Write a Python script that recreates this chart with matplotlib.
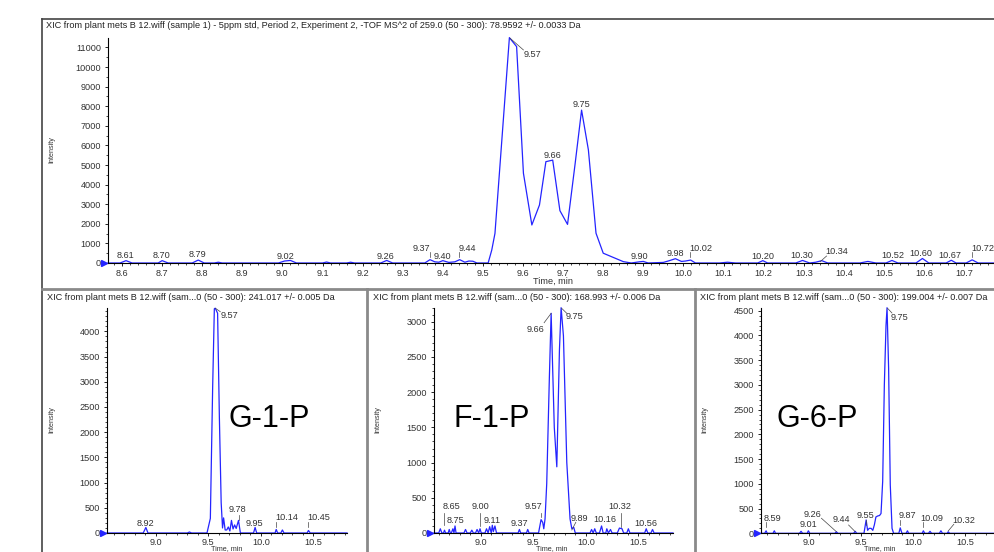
import matplotlib
matplotlib.use("Agg")
import matplotlib.pyplot as plt
from matplotlib.lines import Line2D
from matplotlib.ticker import MultipleLocator, FormatStrFormatter
from matplotlib.transforms import ScaledTranslation

plt.rcParams['font.family'] = ['Liberation Sans', 'DejaVu Sans']

W, H = 995, 552

# ---- data ----
top_title = ("XIC from plant mets B 12.wiff (sample 1) - 5ppm std, Period 2, Experiment 2, "
             "-TOF MS^2 of 259.0 (50 - 300): 78.9592 +/- 0.0033 Da")
top_time = [8.565, 8.595, 8.610, 8.625, 8.690, 8.700, 8.715, 8.775, 8.790, 8.805,
            8.830, 8.840, 8.850, 8.990, 9.005, 9.020, 9.035, 9.100, 9.110, 9.120,
            9.160, 9.170, 9.180, 9.245, 9.260, 9.275, 9.355, 9.368, 9.380, 9.390,
            9.400, 9.415, 9.430, 9.442, 9.455, 9.465, 9.475, 9.485, 9.513, 9.522,
            9.530, 9.566, 9.584, 9.601, 9.622, 9.641, 9.657, 9.674, 9.692, 9.711,
            9.730, 9.746, 9.763, 9.782, 9.800, 9.850, 9.870, 9.890, 9.900, 9.912,
            9.950, 9.965, 9.980, 9.995, 10.005, 10.018, 10.030, 10.090, 10.110, 10.130,
            10.185, 10.198, 10.210, 10.280, 10.297, 10.315, 10.330, 10.345, 10.360, 10.440,
            10.460, 10.480, 10.505, 10.520, 10.535, 10.580, 10.596, 10.612, 10.655, 10.668,
            10.680, 10.705, 10.720, 10.735, 10.780]
top_int = [0, 0, 120, 0, 0, 120, 0, 0, 150, 0,
           0, 40, 0, 0, 100, 130, 0, 0, 50, 0,
           0, 40, 0, 0, 130, 0, 0, 170, 60, 40,
           120, 30, 60, 170, 40, 100, 90, 0, 0, 660,
           1510, 11500, 11040, 4580, 1940, 2960, 5170, 5250, 2670, 1970,
           5080, 7800, 5770, 1520, 500, 70, 0, 60, 80, 0,
           30, 120, 220, 80, 100, 150, 0, 0, 40, 0,
           0, 120, 0, 0, 130, 0, 40, 120, 0, 0,
           80, 0, 0, 130, 0, 0, 230, 0, 0, 140,
           0, 0, 160, 0, 0]
top_labels = ["8.61", "8.70", "8.79", "9.02", "9.26", "9.37", "9.40", "9.44", "9.57",
              "9.66", "9.75", "9.90", "9.98", "10.02", "10.20", "10.30", "10.34",
              "10.52", "10.60", "10.67", "10.72"]

g1p_title = "XIC from plant mets B 12.wiff (sam...0 (50 - 300): 241.017 +/- 0.005 Da"
g1p_time = [8.535, 8.880, 8.905, 8.925, 9.300, 9.320, 9.340, 9.487, 9.519, 9.541,
            9.557, 9.566, 9.588, 9.605, 9.622, 9.635, 9.645, 9.660, 9.675, 9.690,
            9.705, 9.720, 9.735, 9.750, 9.765, 9.787, 9.805, 9.930, 9.945, 9.960,
            10.135, 10.146, 10.160, 10.190, 10.205, 10.220, 10.440, 10.453, 10.470, 10.820]
g1p_int = [0, 0, 110, 0, 0, 20, 0, 0, 290, 2900,
           4450, 4460, 4360, 2280, 600, 100, 300, 60, 60, 120,
           40, 250, 80, 160, 90, 250, 0, 0, 110, 0,
           0, 70, 0, 0, 60, 0, 0, 50, 0, 0]
g1p_labels = ["9.57", "9.78", "8.92", "9.95", "10.14", "10.45"]

f1p_title = "XIC from plant mets B 12.wiff (sam...0 (50 - 300): 168.993 +/- 0.006 Da"
f1p_time = [8.555, 8.600, 8.615, 8.630, 8.645, 8.655, 8.665, 8.690, 8.700, 8.710,
            8.720, 8.735, 8.745, 8.755, 8.765, 8.840, 8.855, 8.870, 8.900, 8.915,
            8.930, 8.950, 8.965, 8.980, 8.993, 9.005, 9.040, 9.055, 9.070, 9.085,
            9.100, 9.110, 9.120, 9.135, 9.150, 9.355, 9.368, 9.380, 9.435, 9.447,
            9.460, 9.550, 9.574, 9.590, 9.600, 9.612, 9.628, 9.653, 9.670, 9.700,
            9.724, 9.749, 9.765, 9.787, 9.819, 9.850, 9.867, 9.885, 9.900, 9.950,
            10.040, 10.055, 10.070, 10.085, 10.100, 10.130, 10.150, 10.165, 10.190, 10.200,
            10.215, 10.235, 10.250, 10.300, 10.320, 10.345, 10.360, 10.390, 10.405, 10.420,
            10.560, 10.575, 10.590, 10.620, 10.635, 10.650, 10.830]
f1p_int = [0, 0, 60, 0, 0, 40, 0, 0, 50, 0,
           0, 60, 0, 100, 0, 0, 50, 0, 0, 40,
           0, 0, 50, 0, 60, 0, 0, 60, 0, 90,
           0, 110, 20, 100, 0, 0, 50, 0, 0, 50,
           0, 0, 190, 150, 60, 200, 700, 2200, 3120, 1500,
           940, 2600, 3200, 2800, 1000, 200, 60, 80, 0, 0,
           0, 50, 0, 60, 0, 0, 100, 0, 0, 60,
           0, 50, 0, 0, 70, 60, 0, 0, 60, 0,
           0, 60, 0, 0, 50, 0, 0]
f1p_labels = ["9.66", "9.75", "8.65", "8.75", "9.00", "9.11", "9.37", "9.57",
              "9.89", "10.16", "10.32", "10.56"]

g6p_title = "XIC from plant mets B 12.wiff (sam...0 (50 - 300): 199.004 +/- 0.007 Da"
g6p_time = [8.540, 8.575, 8.589, 8.600, 8.655, 8.668, 8.680, 8.910, 8.925, 8.940,
            8.985, 8.995, 9.010, 9.250, 9.265, 9.280, 9.430, 9.446, 9.460, 9.530,
            9.551, 9.565, 9.580, 9.599, 9.615, 9.630, 9.645, 9.662, 9.680, 9.694,
            9.710, 9.726, 9.742, 9.752, 9.767, 9.783, 9.800, 9.815, 9.865, 9.879,
            9.895, 9.935, 9.948, 9.960, 10.090, 10.101, 10.115, 10.150, 10.165, 10.180,
            10.255, 10.270, 10.285, 10.330, 10.340, 10.355, 10.790]
g6p_int = [0, 0, 50, 0, 0, 50, 0, 0, 40, 0,
           0, 50, 0, 0, 30, 0, 0, 40, 0, 0,
           270, 60, 100, 100, 60, 170, 330, 350, 360, 400,
           1050, 3000, 4200, 4560, 3340, 980, 100, 0, 0, 110,
           0, 0, 50, 0, 0, 50, 0, 0, 40, 0,
           0, 50, 0, 0, 30, 0, 0]
g6p_labels = ["9.75", "8.59", "9.26", "9.01", "9.44", "9.55", "9.87", "10.09", "10.32"]

compound_names = ["G-1-P", "F-1-P", "G-6-P"]

# ---- layout (label centres and leader lines, data coordinates) ----
top_pos = [(8.6075, 393), (8.698, 393), (8.789, 444), (9.0065, 342), (9.258, 357),
           (9.347, 760), (9.399, 357), (9.460, 760), (9.624, 10650), (9.674, 5510),
           (9.745, 8110), (9.890, 321), (9.979, 495), (10.043, 760), (10.197, 357),
           (10.295, 372), (10.382, 612), (10.521, 372), (10.592, 495), (10.665, 372),
           (10.746, 724)]
top_lead = [((9.368, 330), (9.368, 560)), ((9.441, 330), (9.441, 560)),
            ((10.016, 330), (10.016, 560)), ((10.341, 66), (10.357, 357)),
            ((10.720, 330), (10.720, 540)), ((9.566, 11500), (9.601, 10870))]

g1p_pos = [(9.701, 4311), (9.777, 466), (8.898, 192), (9.936, 192), (10.244, 300), (10.549, 300)]
g1p_lead = [((9.566, 4460), (9.614, 4390)), ((9.787, 258), (9.787, 357)),
            ((10.146, 113), (10.146, 212)), ((10.453, 113), (10.453, 212))]

f1p_pos = [(9.517, 2893), (9.891, 3071), (8.717, 380), (8.762, 175), (8.993, 380),
           (9.110, 175), (9.368, 138), (9.501, 380), (9.936, 209), (10.177, 185),
           (10.327, 380), (10.574, 128)]
f1p_lead = [((9.603, 2986), (9.670, 3120)), ((9.765, 3199), (9.819, 3120)),
            ((8.650, 114), (8.650, 290)), ((8.993, 100), (8.993, 285)),
            ((9.574, 223), (9.574, 285)), ((9.867, 43), (9.905, 152)),
            ((10.333, 89), (10.333, 285))]

g6p_pos = [(9.876, 4372), (8.653, 304), (9.032, 385), (8.993, 182), (9.312, 269),
           (9.544, 360), (9.948, 360), (10.181, 304), (10.490, 255)]
g6p_lead = [((9.752, 4560), (9.799, 4453)), ((8.589, 134), (8.589, 235)),
            ((9.265, 32), (9.121, 304)), ((9.446, 32), (9.382, 168)),
            ((9.551, 168), (9.551, 269)), ((9.879, 168), (9.879, 269)),
            ((10.101, 134), (10.101, 235)), ((10.340, 47), (10.394, 182))]

BLUE = '#2424ff'
GREY = '#333333'
FS = 6.6


def fx(px):
    return px / W


def fy(py):
    return 1 - py / H


def axes_px(fig, left, right, bottom, top):
    return fig.add_axes([fx(left), fy(bottom), (right - left) / W, (bottom - top) / H])


def style(ax, xlim, ylim, xmaj, xmin, ymaj, ymin, xpad):
    ax.set_xlim(*xlim)
    ax.set_ylim(*ylim)
    for s in ['top', 'right']:
        ax.spines[s].set_visible(False)
    for s in ['left', 'bottom']:
        ax.spines[s].set_linewidth(0.8)
    ax.xaxis.set_major_locator(MultipleLocator(xmaj))
    ax.xaxis.set_minor_locator(MultipleLocator(xmin))
    ax.yaxis.set_major_locator(MultipleLocator(ymaj))
    ax.yaxis.set_minor_locator(MultipleLocator(ymin))
    ax.xaxis.set_major_formatter(FormatStrFormatter('%.1f'))
    ax.yaxis.set_major_formatter(FormatStrFormatter('%d'))
    ax.tick_params(which='major', direction='out', length=2.5, width=0.6,
                   labelsize=FS, labelcolor=GREY)
    ax.tick_params(which='minor', direction='out', length=1.2, width=0.5)
    ax.tick_params(axis='x', pad=xpad)
    ax.tick_params(axis='y', pad=2.5)
    ax.patch.set_alpha(0)
    # blue origin arrow
    off = ScaledTranslation(-3 / 72, 0, ax.figure.dpi_scale_trans)
    ax.plot([xlim[0]], [0], marker='>', ms=5, color=BLUE, clip_on=False,
            transform=ax.transData + off, zorder=5)


def draw(ax, t, y, labels, pos, leads):
    ax.plot(t, y, color=BLUE, lw=0.9, clip_on=False)
    for lab, (x0, y0) in zip(labels, pos):
        ax.text(x0, y0, lab, fontsize=FS, color=GREY, ha='center', va='center')
    for (a, b) in leads:
        ax.plot([a[0], b[0]], [a[1], b[1]], color='#444444', lw=0.5)


fig = plt.figure(figsize=(W / 100, H / 100), dpi=100)

# top panel
ax0 = axes_px(fig, 108, 995, 263, 38)
style(ax0, (8.565, 10.777), (0, 11480), 0.1, 0.02, 1000, 500, 1.5)
draw(ax0, top_time, top_int, top_labels, top_pos, top_lead)

# bottom panels
ax1 = axes_px(fig, 107, 347, 533, 308)
style(ax1, (8.535, 10.82), (0, 4464), 0.5, 0.1, 500, 100, 0.8)
draw(ax1, g1p_time, g1p_int, g1p_labels, g1p_pos, g1p_lead)

ax2 = axes_px(fig, 434, 673, 533, 307.7)
style(ax2, (8.555, 10.83), (0, 3200), 0.5, 0.1, 500, 100, 0.8)
draw(ax2, f1p_time, f1p_int, f1p_labels, f1p_pos, f1p_lead)

ax3 = axes_px(fig, 761, 995, 533.3, 307.7)
style(ax3, (8.54, 10.79), (0, 4560), 0.5, 0.1, 500, 100, 0.8)
draw(ax3, g6p_time, g6p_int, g6p_labels, g6p_pos, g6p_lead)

# titles and axis labels
fig.text(fx(46), fy(26), top_title, fontsize=FS, color='#222222', ha='left', va='center')
for px, t in [(46.7, g1p_title), (373.3, f1p_title), (700, g6p_title)]:
    fig.text(fx(px), fy(297), t, fontsize=FS, color='#222222', ha='left', va='center')

fig.text(fx(52), fy(150), 'Intensity', fontsize=5.2, color=GREY, rotation=90,
         ha='center', va='center')
for px in [51.7, 378.3, 705]:
    fig.text(fx(px), fy(420), 'Intensity', fontsize=5.2, color=GREY, rotation=90,
             ha='center', va='center')

fig.text(fx(552.7), fy(281.7), 'Time, min', fontsize=FS, color=GREY, ha='center', va='center')
for px in [226.7, 551.7, 880]:
    fig.text(fx(px), fy(552), 'Time, min', fontsize=5.2, color=GREY, ha='center', va='bottom')

for px, name in zip([229, 454, 777], compound_names):
    fig.text(fx(px), fy(427), name, fontsize=22, color='black', ha='left', va='baseline')

# pane frames
frame = [((42, 19), (995, 19), '#444444', 1.2),
         ((42, 19), (42, 552), '#444444', 1.2),
         ((42, 289), (995, 289), '#8a8a8a', 2.0),
         ((367, 289), (367, 552), '#8a8a8a', 2.0),
         ((695, 289), (695, 552), '#8a8a8a', 2.0)]
for (a, b, c, lw) in frame:
    fig.add_artist(Line2D([fx(a[0]), fx(b[0])], [fy(a[1]), fy(b[1])],
                          transform=fig.transFigure, color=c, lw=lw))

fig.savefig('out.png', dpi=100)
